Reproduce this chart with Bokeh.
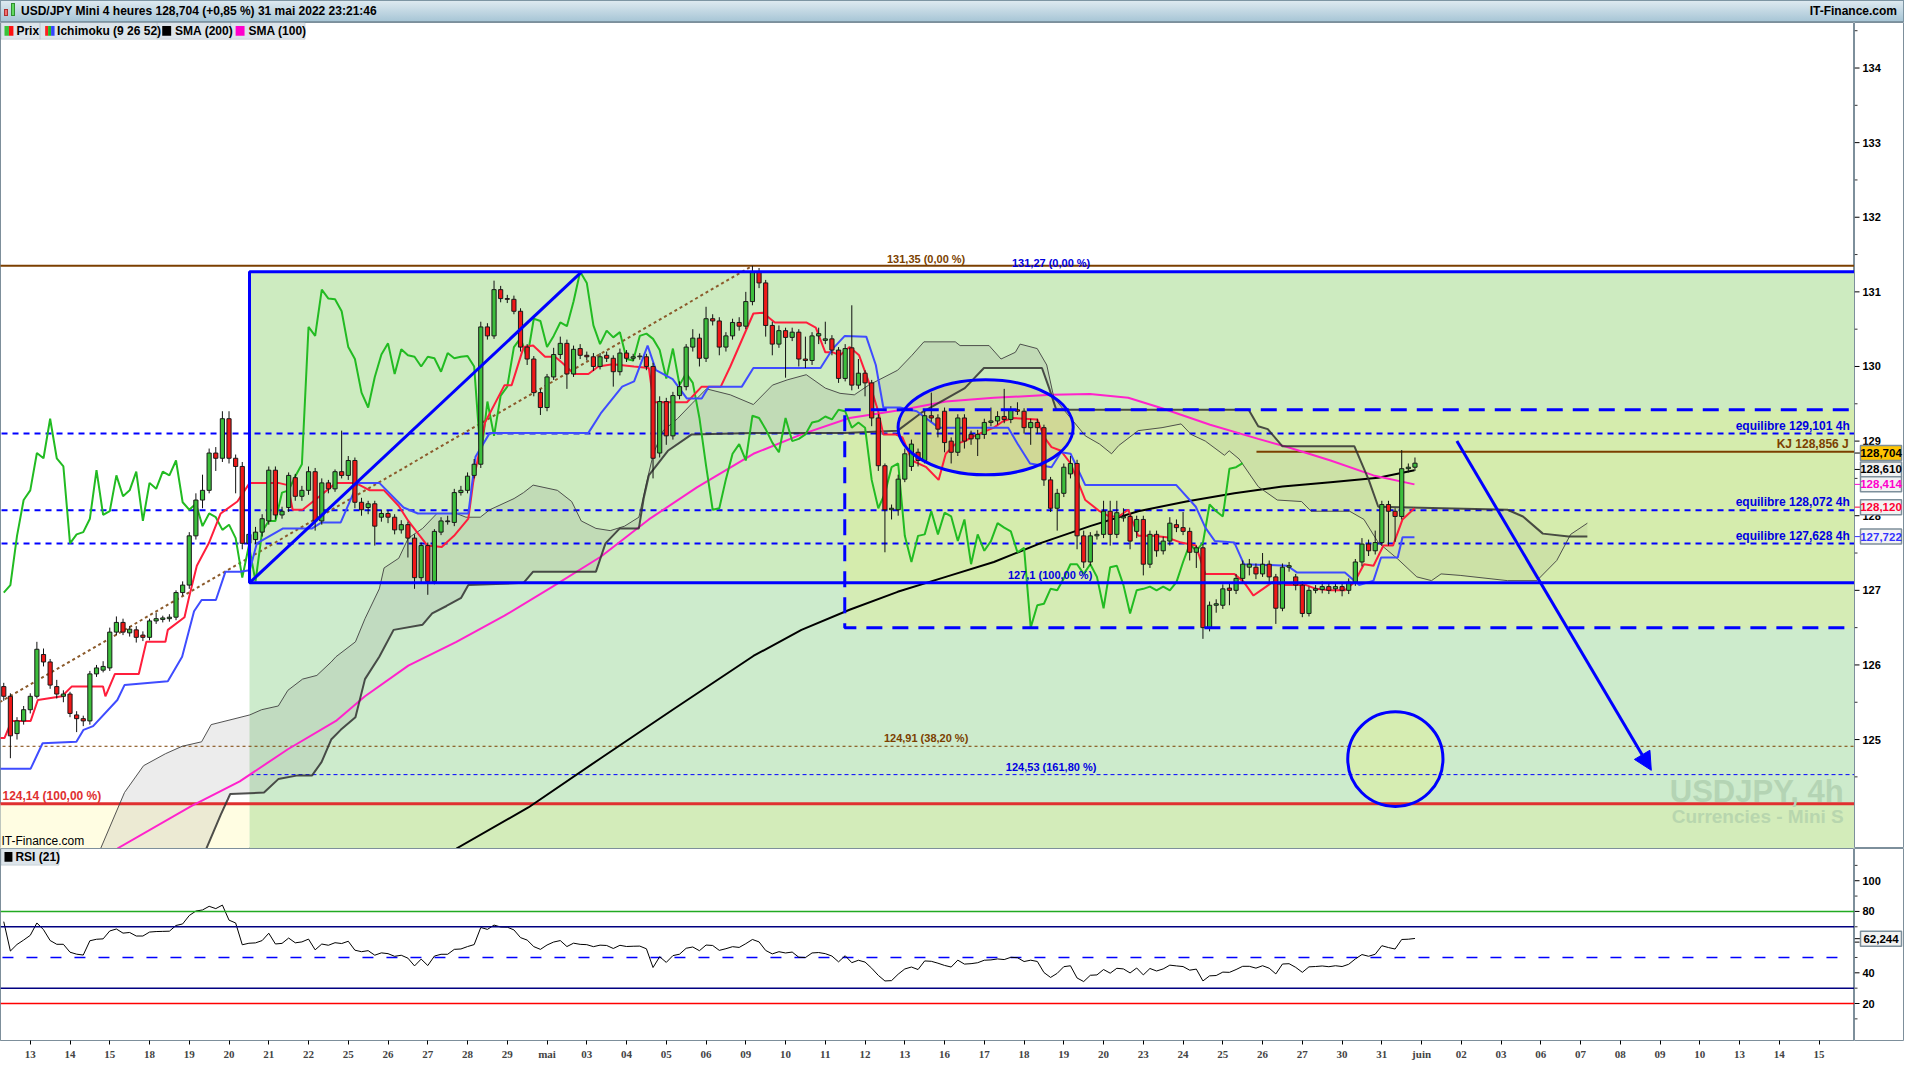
import numpy as np
from bokeh.plotting import figure
from bokeh.layouts import column, row
from bokeh.models import Div, Label, BoxAnnotation, FixedTicker, Arrow, NormalHead, Span
from bokeh.core.properties import value
from bokeh.embed import file_html
from bokeh.resources import INLINE

# ---------------- data ----------------
DAY_LABELS = ["13", "14", "15", "18", "19", "20", "21", "22", "25", "26", "27", "28", "29", "mai",
              "03", "04", "05", "06", "09", "10", "11", "12", "13", "16", "17", "18", "19", "20",
              "23", "24", "25", "26", "27", "30", "31", "juin", "02", "03", "06", "07", "08", "09",
              "10", "13", "14", "15"]

OPENS = [125.71,125.58,125.08,125.25,125.40,125.58,126.14,126.04,125.71,125.58,
         125.61,125.33,125.28,125.25,125.88,125.93,125.96,126.44,126.57,126.43,
         126.47,126.40,126.37,126.59,126.61,126.62,126.64,126.97,127.07,127.73,
         128.21,128.34,128.84,128.77,129.30,128.77,128.66,127.63,127.68,127.78,
         127.93,128.61,128.01,128.11,128.51,128.26,128.34,128.59,127.93,128.44,
         128.36,128.59,128.54,128.74,128.18,128.11,128.16,127.98,128.03,127.98,
         127.81,127.88,127.70,127.17,127.60,127.12,127.78,127.92,127.91,128.31,
         128.34,128.54,128.69,130.53,130.41,131.03,130.91,130.90,130.74,130.26,
         130.10,129.65,129.45,129.86,130.16,130.31,129.90,130.24,130.15,130.13,
         130.00,130.15,130.11,129.93,130.18,130.11,130.13,130.13,130.00,128.84,
         129.53,129.07,129.61,129.73,130.26,130.38,130.11,130.64,130.61,130.26,
         130.41,130.59,130.54,
         130.87,131.27,131.12,130.55,130.30,130.48,130.39,130.46,130.10,130.08,
         130.41,130.35,130.37,130.22,129.84,130.25,129.75,129.91,129.78,129.31,
         128.67,128.08,128.08,128.49,128.66,128.85,128.74,129.34,129.31,129.40,
         129.00,128.85,129.31,129.09,129.03,129.09,129.25,129.27,129.33,129.29,
         129.42,129.40,129.18,129.25,129.18,128.48,128.10,128.30,128.56,128.70,
         127.73,127.38,127.73,127.75,128.06,127.75,127.97,127.99,127.79,127.95,
         127.35,127.75,127.53,127.66,127.88,127.84,127.79,127.51,127.57,126.50,
         126.80,126.80,127.03,127.00,127.16,127.31,127.31,127.22,127.35,127.18,
         126.76,127.31,127.18,127.07,126.69,127.00,127.01,127.05,127.02,127.05,
         127.00,127.11,127.38,127.62,127.53,127.64,128.15,128.06,127.99,128.63,
         128.65]

CLOSES = [125.58,125.05,125.25,125.40,125.58,126.21,126.04,125.73,125.61,125.61,
          125.35,125.28,125.25,125.88,125.96,125.98,126.44,126.57,126.44,126.48,
          126.37,126.37,126.59,126.62,126.63,126.64,126.97,127.07,127.73,128.21,
          128.34,128.84,128.77,129.30,128.77,128.66,127.63,127.75,127.78,127.96,
          128.61,128.01,128.06,128.54,128.26,128.34,128.59,127.93,128.44,128.36,
          128.59,128.54,128.74,128.18,128.08,128.16,127.86,128.03,127.98,127.81,
          127.88,127.70,127.17,127.60,127.12,127.79,127.93,127.93,128.31,128.34,
          128.53,128.69,130.53,130.41,131.03,130.91,130.90,130.74,130.26,130.10,
          129.65,129.45,129.86,130.16,130.31,129.90,130.23,130.15,130.13,130.00,
          130.13,130.11,129.93,130.18,130.11,130.13,130.14,130.00,128.77,129.53,
          129.07,129.61,129.73,130.26,130.38,130.11,130.64,130.61,130.26,130.41,
          130.59,130.54,130.87,
          131.27,131.12,130.55,130.30,130.48,130.39,130.46,130.10,130.08,130.41,
          130.44,130.37,130.22,129.84,130.24,129.75,129.91,129.78,129.31,128.67,
          128.08,128.10,128.49,128.83,128.96,128.74,129.34,129.31,129.16,128.98,
          128.85,129.31,129.00,129.03,129.09,129.25,129.27,129.33,129.29,129.42,
          129.40,129.18,129.25,129.18,128.48,128.10,128.30,128.65,128.70,127.73,
          127.38,127.73,127.75,128.06,127.75,128.04,127.99,127.66,127.95,127.35,
          127.75,127.53,127.66,127.90,127.84,127.79,127.51,127.57,126.50,126.80,
          126.82,127.02,127.00,127.16,127.35,127.35,127.22,127.35,127.18,126.76,
          127.31,127.33,127.07,126.69,127.00,127.02,127.05,127.00,127.05,127.00,
          127.11,127.38,127.62,127.53,127.64,128.15,128.06,127.99,128.63,128.65,
          128.704]

HIGHS = [125.76,125.62,125.30,125.45,125.62,126.31,126.22,126.08,125.80,125.66,
         125.64,125.38,125.32,125.92,126.00,126.05,126.50,126.65,126.62,126.52,
         126.52,126.45,126.62,126.70,126.66,126.68,127.00,127.12,127.78,128.30,
         128.55,128.90,128.92,129.40,129.40,128.82,128.72,127.82,127.85,128.02,
         128.66,128.66,128.12,128.58,128.56,128.40,128.66,128.64,128.50,128.48,
         128.62,129.14,128.80,128.78,128.24,128.20,128.20,128.08,128.07,128.02,
         127.94,127.92,127.75,127.64,127.64,127.82,127.98,128.00,128.36,128.40,
         128.58,128.76,130.60,130.58,131.15,131.08,130.96,130.95,130.78,130.30,
         130.14,129.70,129.90,130.25,130.40,130.36,130.28,130.30,130.20,130.18,
         130.18,130.20,130.15,130.24,130.22,130.17,130.18,130.17,130.05,129.60,
         129.58,129.66,129.80,130.30,130.50,130.44,130.80,130.70,130.66,130.46,
         130.64,130.66,131.00,
         131.35,131.32,131.16,130.60,130.55,130.52,130.52,130.50,130.40,130.46,
         130.52,130.60,130.42,130.26,130.30,130.82,130.10,129.95,129.82,129.36,
         128.70,128.15,128.55,128.90,129.02,128.90,129.40,129.65,129.36,129.45,
         129.05,129.36,129.36,129.14,129.15,129.30,129.45,129.40,129.70,129.47,
         129.52,129.44,129.30,129.30,129.22,128.52,128.36,128.70,128.80,128.75,
         127.80,127.78,127.80,128.20,128.20,128.20,128.10,128.03,128.00,128.00,
         127.80,127.80,127.72,127.98,127.95,128.05,127.84,127.60,127.62,126.85,
         126.88,127.08,127.10,127.22,127.40,127.42,127.36,127.50,127.40,127.22,
         127.36,127.38,127.22,127.12,127.05,127.07,127.12,127.10,127.10,127.10,
         127.16,127.42,127.70,127.68,127.80,128.20,128.20,128.10,128.88,128.70,
         128.78]

LOWS = [125.52,124.75,125.00,125.20,125.35,125.55,125.98,125.68,125.55,125.50,
        125.30,125.10,125.18,125.20,125.84,125.90,125.92,126.40,126.40,126.38,
        126.30,126.32,126.33,126.55,126.57,126.58,126.60,126.93,127.02,127.68,
        128.10,128.30,128.60,128.72,128.70,128.30,127.55,127.35,127.62,127.72,
        127.88,127.95,127.96,128.05,128.20,128.20,128.28,127.80,127.88,128.30,
        128.32,128.50,128.48,128.10,128.00,128.02,127.60,127.92,127.90,127.75,
        127.76,127.44,127.02,127.10,126.94,127.08,127.74,127.88,127.86,128.27,
        128.30,128.50,128.64,130.36,130.37,130.86,130.85,130.70,130.20,130.02,
        129.60,129.35,129.40,129.82,130.10,129.70,129.86,130.10,130.08,129.94,
        129.96,130.06,129.73,129.88,130.06,130.07,130.09,129.95,128.50,128.78,
        128.95,129.02,129.56,129.68,130.20,130.00,130.06,130.55,130.15,130.20,
        130.36,130.48,130.50,
        130.82,131.05,130.40,130.15,130.25,129.85,130.34,130.00,129.98,130.02,
        130.30,130.30,130.15,129.78,129.80,129.68,129.70,129.60,129.20,128.60,
        127.51,127.95,128.00,128.45,128.60,128.66,128.70,129.26,129.05,128.85,
        128.70,128.80,128.90,128.95,128.80,129.03,129.20,129.22,129.24,129.24,
        129.35,129.10,128.95,129.10,128.40,128.05,127.80,128.25,128.50,127.55,
        127.30,127.33,127.68,127.70,127.60,127.70,127.92,127.55,127.70,127.20,
        127.30,127.45,127.48,127.60,127.78,127.74,127.40,127.30,126.35,126.45,
        126.70,126.75,126.80,126.95,127.10,127.20,127.15,127.18,127.10,126.55,
        126.72,127.25,127.00,126.64,126.65,126.96,126.96,126.95,126.97,126.92,
        126.95,127.06,127.32,127.46,127.48,127.60,127.60,127.65,127.95,128.58,
        128.60]

LAST_CANDLE_DAY = 34.833   # 31 mai, 20:00 bar (day index, 1 unit = 1 trading day)

# Ichimoku lines: (day index, price)
TENKAN = [(-0.77,125.02),(-0.65,125.02),(-0.47,125.25),(0.01,125.25),(0.19,125.53),(0.80,125.58),(1.04,125.71),(1.83,125.71),(1.89,125.58),(2.13,125.88),(2.73,125.88),(2.92,126.31),(3.40,126.31),(3.46,126.47),(3.88,126.64),(4.00,126.92),(4.19,127.33),(4.49,127.63),(4.79,128.03),(5.21,128.19),(5.52,128.44),(6.24,128.44),(6.48,128.41),(6.60,128.08),(6.85,128.08),(7.21,128.23),(7.69,128.44),(8.18,128.44),(8.54,128.34),(8.90,128.34),(9.27,128.13),(9.51,127.93),(9.99,127.60),(10.35,127.58),(10.66,127.73),(11.02,127.96),(11.14,128.44),(11.44,129.25),(11.93,129.75),(12.11,129.75),(12.41,130.26),(12.65,130.28),(12.95,130.13),(13.20,130.13),(13.38,130.05),(13.68,129.90),(14.04,129.90),(14.29,130.00),(14.65,130.03),(15.19,130.00),(15.56,129.98),(15.68,129.52),(16.52,129.52),(16.89,129.73),(17.37,129.73),(17.61,130.00),(18.19,130.71),(18.43,130.72),(18.73,130.59),(19.52,130.59),(19.76,130.52),(20.00,130.19),(20.19,130.19),(20.37,130.15),(20.61,130.26),(20.85,130.15),(21.15,129.71),(21.33,129.40),(21.46,129.09),(21.76,129.09),(21.94,129.05),(22.18,128.74),(22.54,128.65),(22.85,128.48),(23.03,128.83),(23.27,128.96),(23.51,129.00),(23.75,129.07),(24.24,129.18),(24.48,129.27),(24.72,129.31),(25.33,129.29),(25.51,129.05),(25.69,128.92),(25.93,128.87),(26.17,128.70),(26.54,128.21),(26.90,128.06),(27.14,127.99),(27.38,127.99),(27.62,128.08),(27.87,127.73),(28.23,127.73),(28.59,127.71),(28.95,127.64),(29.32,127.60),(29.56,127.22),(30.29,127.22),(30.53,127.11),(30.77,126.93),(31.01,127.02),(31.25,127.11),(31.50,127.07),(32.10,127.07),(32.34,127.02),(32.71,127.00),(33.07,127.00),(33.31,127.11),(33.55,127.35),(33.79,127.33),(34.04,127.60),(34.28,127.60),(34.52,127.95),(34.82,128.10)]

KIJUN = [(-0.77,124.61),(0.01,124.61),(0.31,124.95),(1.16,124.97),(1.34,125.13),(1.58,125.18),(2.19,125.53),(2.37,125.73),(3.46,125.78),(3.82,126.11),(4.12,126.72),(4.31,126.87),(4.67,126.87),(4.91,127.25),(5.27,127.25),(5.52,127.27),(5.70,127.63),(6.36,127.83),(7.09,127.83),(7.33,127.91),(7.81,127.91),(8.24,128.44),(8.78,128.44),(9.39,128.11),(9.75,128.03),(11.02,128.03),(11.20,128.79),(11.56,129.11),(14.04,129.11),(14.35,129.37),(14.89,129.73),(15.19,129.80),(15.53,130.28),(15.74,129.95),(16.16,129.83),(16.52,129.57),(16.89,129.57),(17.07,129.73),(17.90,129.73),(18.19,129.98),(19.88,129.98),(20.19,130.24),(20.49,130.41),(21.03,130.40),(21.27,130.02),(21.46,129.45),(21.88,129.45),(22.30,129.40),(22.85,129.18),(24.60,129.18),(24.84,128.96),(25.15,128.70),(25.69,128.65),(25.93,128.85),(26.17,128.83),(26.54,128.41),(28.83,128.41),(29.32,128.12),(29.56,127.84),(29.80,127.66),(30.29,127.64),(30.53,127.35),(31.62,127.33),(31.86,127.24),(33.07,127.24),(33.43,127.07),(33.79,127.13),(33.98,127.44),(34.40,127.44),(34.52,127.71),(34.82,127.71)]

SENKOU_A = [(1.77,123.54),(2.37,124.29),(2.85,124.65),(3.40,124.81),(3.82,124.91),(4.31,124.97),(4.55,125.20),(5.15,125.28),(5.52,125.33),(5.82,125.40),(6.24,125.45),(6.48,125.66),(6.85,125.81),(7.21,125.86),(7.57,126.04),(7.69,126.11),(8.18,126.31),(8.42,126.62),(8.78,127.02),(8.90,127.30),(9.27,127.43),(9.51,127.70),(9.87,127.83),(10.23,128.03),(10.72,128.03),(10.96,127.98),(11.32,127.98),(11.56,128.08),(12.17,128.23),(12.41,128.31),(12.65,128.41),(13.26,128.34),(13.62,128.19),(13.86,127.93),(14.23,127.83),(14.59,127.80),(14.95,127.86),(15.31,127.98),(15.50,128.44),(15.68,128.84),(15.92,129.14),(16.28,129.30),(16.64,129.50),(17.01,129.70),(17.61,129.62),(18.19,129.49),(18.67,129.75),(19.04,129.82),(19.52,129.89),(20.00,129.71),(20.37,129.64),(20.73,129.62),(21.09,129.75),(21.82,129.95),(22.18,130.15),(22.48,130.33),(23.27,130.33),(23.39,130.28),(24.12,130.28),(24.42,130.10),(24.78,130.19),(24.90,130.30),(25.33,130.24),(25.57,130.02),(25.75,129.58),(26.17,129.31),(26.54,129.07),(26.90,128.96),(27.20,128.83),(27.38,128.94),(27.87,129.14),(28.47,129.18),(28.95,129.23),(29.20,129.09),(29.56,129.00),(30.04,128.81),(30.16,128.87),(30.41,128.76),(30.89,128.39),(31.37,128.21),(31.98,128.19),(32.22,128.06),(33.19,128.06),(33.55,127.95),(33.91,127.64),(34.40,127.42),(34.88,127.18),(35.25,127.13),(35.49,127.22),(35.97,127.20),(37.16,127.13),(37.90,127.13),(38.40,127.40),(38.75,127.75),(39.17,127.90)]

SENKOU_B = [(4.43,123.54),(4.79,123.99),(5.03,124.27),(5.88,124.29),(6.24,124.47),(6.73,124.52),(7.09,124.52),(7.33,124.70),(7.57,125.00),(7.81,125.13),(8.18,125.30),(8.42,125.81),(8.78,126.11),(9.14,126.47),(9.87,126.54),(10.11,126.69),(10.47,126.79),(10.84,126.90),(11.02,127.07),(12.41,127.10),(12.65,127.25),(14.23,127.25),(14.47,127.63),(14.83,127.83),(15.31,127.83),(15.43,128.23),(15.56,128.54),(16.04,128.87),(16.64,129.09),(18.19,129.11),(20.49,129.11),(21.82,129.14),(22.42,129.38),(23.51,129.71),(23.99,129.98),(25.45,129.98),(25.63,129.71),(25.81,129.42),(30.65,129.42),(30.89,129.20),(31.13,129.16),(31.50,128.93),(33.31,128.93),(33.67,128.48),(33.91,128.12),(37.16,128.08),(37.55,127.99),(38.05,127.76),(38.70,127.72),(39.17,127.72)]

SMA100 = [(2.19,123.54),(4.06,124.11),(5.27,124.44),(6.48,124.87),(7.69,125.25),(8.42,125.58),(9.51,125.99),(10.72,126.31),(11.93,126.66),(13.14,127.05),(14.35,127.45),(15.56,127.95),(16.77,128.38),(18.19,128.83),(19.40,129.09),(20.61,129.31),(21.94,129.42),(23.03,129.53),(24.24,129.58),(25.69,129.62),(26.66,129.63),(27.62,129.58),(28.47,129.44),(29.68,129.22),(30.89,129.03),(31.62,128.92),(32.71,128.74),(33.79,128.54),(34.82,128.42)]

SMA200 = [(10.72,123.54),(12.53,124.09),(14.35,124.75),(16.16,125.40),(18.19,126.12),(19.40,126.47),(20.61,126.74),(21.82,126.98),(23.03,127.18),(24.24,127.38),(25.45,127.64),(26.66,127.86),(27.87,128.06),(29.08,128.19),(30.29,128.30),(31.50,128.39),(32.71,128.45),(33.91,128.51),(34.82,128.61)]

# last-value boxes on the price scale: (box centre price, text, text colour, fill)
PRICE_BOXES = [(128.84, "128,704", "#000000", "#FFC400"),
               (128.62, "128,610", "#000000", "#F2F2F2"),
               (128.42, "128,414", "#FF00CC", "#F2F2F2"),
               (128.115, "128,120", "#FF0033", "#F2F2F2"),
               (127.72, "127,722", "#3333FF", "#F2F2F2")]
RSI_BOXES = [(62.24, "62,244", "#000000", "#F2F2F2")]
PRICE_TICKS = list(range(125, 135))
RSI_TICKS = [20, 40, 60, 80, 100]

RSI_SEED_GAIN, RSI_SEED_LOSS = 0.055, 0.020   # RSI ~73 at the first bar
RSI_PERIOD = 21

# ---------------- helpers (reference pixel -> data) ----------------
def rx(px):
    return (px - 31) / 40.07

def ry(py):
    return 129 - (py - 447) / 75.7

def rr(py):
    return (1051.5 - py) / 1.575

FONT = "Liberation Sans"
BLUE = "#0000FF"
BROWN = "#7B3F00"
FRAME_C = "#7d8f9b"
MAIN_W, AXIS_W = 1854, 50
MAIN_H, RSI_H, RSI_BOTTOM = 826, 216, 24

N = len(CLOSES)
xs = np.array([LAST_CANDLE_DAY - (N - 1 - k) / 6.0 for k in range(N)])
o = np.array(OPENS); c = np.array(CLOSES)
h = np.maximum(np.array(HIGHS), np.maximum(o, c))
l = np.minimum(np.array(LOWS), np.minimum(o, c))

# ---------------- main price panel ----------------
X_RANGE = (-0.749, 45.89)
main = figure(width=MAIN_W, height=MAIN_H, x_range=X_RANGE, y_range=(123.54, 134.61),
              output_backend="svg", toolbar_location=None, x_axis_location=None,
              y_axis_location=None, min_border_left=0, min_border_right=0,
              min_border_top=0, min_border_bottom=0, background_fill_color="white",
              border_fill_color="white", outline_line_color=FRAME_C)
main.grid.visible = False

BOX_L = rx(252)      # left of the fib box
main.quad(left=[-1], right=[BOX_L], top=[124.14], bottom=[123.0], fill_color="#FFFDE2", line_color=None)
main.quad(left=[BOX_L], right=[47], top=[131.27], bottom=[127.1], fill_color="#CDEBC0", line_color=None)
main.quad(left=[BOX_L], right=[47], top=[127.1], bottom=[124.14], fill_color="#CDEBCC", line_color=None)
main.quad(left=[BOX_L], right=[47], top=[124.14], bottom=[123.0], fill_color="#D3ECBA", line_color=None)

ax_, ay_ = zip(*SENKOU_A)
bx_, by_ = zip(*SENKOU_B)
main.patch(x=list(ax_) + list(bx_)[::-1], y=list(ay_) + list(by_)[::-1],
           fill_color="#7f7f7f", fill_alpha=0.15, line_color=None)

DB_L = rx(852)
main.quad(left=[DB_L], right=[47], top=[129.42], bottom=[126.50], fill_color="#E8F080",
          fill_alpha=0.30, line_color=None)
EL_X, EL_Y, EL_W, EL_H = rx(994), ry(433), 176.5 / 40.07, 96.5 / 75.7
CI_X, CI_Y, CI_W, CI_H = rx(1407), ry(769.6), 96 / 40.07, 96 / 75.7
main.ellipse(x=[EL_X], y=[EL_Y], width=[EL_W], height=[EL_H],
             fill_color="#C8B46E", fill_alpha=0.35, line_color=None)
main.ellipse(x=[CI_X], y=[CI_Y], width=[CI_W], height=[CI_H],
             fill_color="#E8F080", fill_alpha=0.35, line_color=None)

main.line([-1, 47], [131.35, 131.35], line_color=BROWN, line_width=2)
main.line([-1, 47], [124.91, 124.91], line_color=BROWN, line_width=1, line_dash="3 3")
main.line([BOX_L, 47], [124.53, 124.53], line_color=BLUE, line_width=1, line_dash="4 3")
main.line([-1, 47], [124.14, 124.14], line_color="#E03030", line_width=3)
for lev in (129.101, 128.072, 127.628):
    main.line([-1, 47], [lev, lev], line_color=BLUE, line_width=2, line_dash="6 5")
main.line([rx(1267), 47], [128.856, 128.856], line_color=BROWN, line_width=2)
main.line([-0.77, 18.17], [125.50, 131.35], line_color="#8B5A2B", line_width=2, line_dash="3 3")

sx, sy = zip(*SMA200)
main.line(sx, sy, line_color="#000000", line_width=2)
sx, sy = zip(*SMA100)
main.line(sx, sy, line_color="#FF22CC", line_width=2)

main.line(ax_, ay_, line_color="#404040", line_width=1, line_alpha=0.9)
main.line(bx_, by_, line_color="#303030", line_width=2, line_alpha=0.85)
main.line(xs[:N - 26], c[26:], line_color="#22BB22", line_width=2)     # chikou span
tx, ty = zip(*TENKAN)
main.line(tx, ty, line_color="#FF1E3C", line_width=2)
kx, ky = zip(*KIJUN)
main.line(kx, ky, line_color="#3F4CFF", line_width=2)

inc = c >= o
main.segment(x0=xs, y0=l, x1=xs, y1=h, line_color="#111111", line_width=1)
main.vbar(x=xs[inc], width=0.105, top=c[inc], bottom=o[inc], fill_color="#3CBE3C",
          line_color="#1a1a1a", line_width=1)
main.vbar(x=xs[~inc], width=0.105, top=o[~inc], bottom=c[~inc], fill_color="#F01818",
          line_color="#1a1a1a", line_width=1)

main.quad(left=[BOX_L], right=[47], top=[131.27], bottom=[127.1], fill_color=None,
          line_color=BLUE, line_width=3)
main.quad(left=[DB_L], right=[47], top=[129.42], bottom=[126.50], fill_color=None,
          line_color=BLUE, line_width=3, line_dash="16 10")
main.line([BOX_L, rx(587)], [127.1, 131.27], line_color=BLUE, line_width=3)
main.ellipse(x=[EL_X], y=[EL_Y], width=[EL_W], height=[EL_H],
             fill_color=None, line_color=BLUE, line_width=3)
main.ellipse(x=[CI_X], y=[CI_Y], width=[CI_W], height=[CI_H],
             fill_color=None, line_color=BLUE, line_width=3)
main.add_layout(Arrow(end=NormalHead(size=18, fill_color=BLUE, line_color=BLUE),
                      x_start=rx(1469), y_start=ry(447), x_end=rx(1665), y_end=ry(781),
                      line_color=BLUE, line_width=3))


def lab(fig, x, y, text, color, size=11, align="left", baseline="middle", style="bold",
        font=FONT):
    fig.add_layout(Label(x=x, y=y, text=text, text_color=color, text_font_size=f"{size}px",
                         text_align=align, text_baseline=baseline, text_font_style=style,
                         text_font=font))


lab(main, rx(934), ry(262), "131,35 (0,00 %)", BROWN, align="center")
lab(main, rx(1060), ry(266), "131,27 (0,00 %)", "#0000E0", align="center")
lab(main, rx(1059), ry(583), "127,1 (100,00 %)", "#0000E0", align="center")
lab(main, rx(934), ry(748), "124,91 (38,20 %)", BROWN, align="center")
lab(main, rx(1060), ry(778), "124,53 (161,80 %)", "#0000E0", align="center")
lab(main, rx(3), ry(807), "124,14 (100,00 %)", "#E03030", size=12)
lab(main, rx(1865), ry(432), "equilibre 129,101 4h", "#0000E0", size=12, align="right")
lab(main, rx(1865), ry(509), "equilibre 128,072 4h", "#0000E0", size=12, align="right")
lab(main, rx(1865), ry(543), "equilibre 127,628 4h", "#0000E0", size=12, align="right")
lab(main, rx(1864), ry(450), "KJ 128,856 J", BROWN, size=12, align="right")
lab(main, rx(1859), ry(802), "USDJPY, 4h", "#B4D4B4", size=31, align="right")
lab(main, rx(1859), ry(828), "Currencies - Mini S", "#B8D6AE", size=19, align="right")
lab(main, rx(2), ry(853), "IT-Finance.com", "#000000", size=12, style="normal")

TOP = 134.61
def ty_(px):
    return TOP - px / 75.7

for (x0, x1) in ((1.5, 41), (41, 159), (159, 233), (233, 308)):
    main.add_layout(BoxAnnotation(left=rx(x0), right=rx(x1), top=ty_(0), bottom=ty_(17),
                                  fill_color="#DCE4EA", fill_alpha=1, line_color="#8C9BA6",
                                  line_width=1))
for (x0, x1, col) in ((5, 9.5, "#39C339"), (9.5, 14, "#FF1010"), (46, 49, "#FF2020"),
                      (49, 52, "#22BB22"), (52, 55.5, "#3344FF"), (164, 173, "#000000"),
                      (238, 247, "#FF00CC")):
    main.add_layout(BoxAnnotation(left=rx(x0), right=rx(x1), top=ty_(3.5), bottom=ty_(13.5),
                                  fill_color=col, fill_alpha=1, line_color=None))
lab(main, rx(17), ty_(8.5), "Prix", "#000000", size=12)
lab(main, rx(58), ty_(8.5), "Ichimoku (9 26 52)", "#000000", size=12)
lab(main, rx(177), ty_(8.5), "SMA (200)", "#000000", size=12)
lab(main, rx(251), ty_(8.5), "SMA (100)", "#000000", size=12)

# ---------------- RSI panel ----------------
rsi_vals = []
ag, al = RSI_SEED_GAIN, RSI_SEED_LOSS
rsi_vals.append(100 - 100 / (1 + ag / al))
for d in np.diff(c):
    ag = (ag * (RSI_PERIOD - 1) + max(d, 0)) / RSI_PERIOD
    al = (al * (RSI_PERIOD - 1) + max(-d, 0)) / RSI_PERIOD
    rsi_vals.append(100 - 100 / (1 + ag / al))

rsi = figure(width=MAIN_W, height=RSI_H, x_range=main.x_range, y_range=(-4.1, 121),
             output_backend="svg", toolbar_location=None, y_axis_location=None,
             min_border_left=0, min_border_right=0, min_border_top=0,
             min_border_bottom=RSI_BOTTOM, background_fill_color="white",
             border_fill_color="white", outline_line_color=FRAME_C)
rsi.grid.visible = False
rsi.add_layout(Span(location=80, dimension="width", line_color="#22AA22", line_width=1.5))
rsi.add_layout(Span(location=70, dimension="width", line_color="#000080", line_width=1.5))
rsi.add_layout(Span(location=30, dimension="width", line_color="#000080", line_width=1.5))
rsi.add_layout(Span(location=20, dimension="width", line_color="#FF0000", line_width=1.5))
rsi.line([-0.7, 45.7], [50, 50], line_color=BLUE, line_width=1.5, line_dash="11 13")
rsi.line(xs, rsi_vals, line_color="#000000", line_width=1)

rsi.add_layout(BoxAnnotation(left=rx(1.5), right=rx(60), top=rr(861), bottom=rr(878),
                             fill_color="#DCE4EA", fill_alpha=1, line_color="#8C9BA6", line_width=1))
rsi.add_layout(BoxAnnotation(left=rx(5), right=rx(13), top=rr(864.5), bottom=rr(874.5),
                             fill_color="#000000", fill_alpha=1, line_color=None))
lab(rsi, rx(16), rr(869.5), "RSI (21)", "#000000", size=12)

xax = rsi.xaxis[0]
xax.ticker = FixedTicker(ticks=list(range(len(DAY_LABELS))))
xax.major_label_overrides = {i: t for i, t in enumerate(DAY_LABELS)}
xax.major_label_text_font = "Liberation Sans Narrow"
xax.major_label_text_font_style = "bold"
xax.major_label_text_font_size = "11px"
xax.axis_line_color = FRAME_C
xax.major_tick_in = 0
xax.major_tick_out = 4
xax.minor_tick_out = 0
xax.minor_tick_in = 0
xax.major_label_standoff = 3


# ---------------- price scales (right-hand column) ----------------
def price_scale(y_range, height, ticks, minor, boxes, bottom=0):
    s = figure(width=AXIS_W, height=height, x_range=(0, AXIS_W), y_range=y_range,
               output_backend="svg", toolbar_location=None, x_axis_location=None,
               y_axis_location=None, min_border_left=0, min_border_right=0,
               min_border_top=0, min_border_bottom=bottom, background_fill_color="white",
               border_fill_color="white", outline_line_color=FRAME_C)
    s.grid.visible = False
    s.segment(x0=[0] * len(minor), y0=minor, x1=[3] * len(minor), y1=minor,
              line_color="#333333", line_width=1)
    s.segment(x0=[0] * len(ticks), y0=ticks, x1=[5] * len(ticks), y1=ticks,
              line_color="#000000", line_width=1)
    s.text(x=[8] * len(ticks), y=ticks, text=[str(t) for t in ticks], text_font=value(FONT),
           text_font_style="bold", text_font_size="11px", text_baseline="middle",
           text_color="#000000")
    for (yv, txt, col, bg) in boxes:
        s.segment(x0=[0], y0=[yv], x1=[6], y1=[yv], line_color=col, line_width=1)
        s.rect(x=[26.5], y=[yv], width=[41], height=[15], height_units="screen",
               fill_color=bg, line_color=FRAME_C, line_width=1.5)
        s.text(x=[26.5], y=[yv], text=[txt], text_font=value(FONT), text_font_style="bold",
               text_font_size="11.5px", text_baseline="middle", text_align="center",
               text_color=col)
    return s


price_side = price_scale(main.y_range, MAIN_H, PRICE_TICKS,
                         [v + 0.5 for v in range(123, 135)], PRICE_BOXES)
rsi_side = price_scale(rsi.y_range, RSI_H, RSI_TICKS, [10, 30, 50, 70, 90, 110], RSI_BOXES,
                       bottom=RSI_BOTTOM)

# ---------------- header ----------------
header_html = (
    '<div style="position:relative;width:1904px;height:22px;box-sizing:border-box;'
    'background:linear-gradient(#dde9f0,#a8c6d6);border:1px solid #7d95a3;'
    "font:bold 12px 'Liberation Sans',Arial,sans-serif;color:#000;\">"
    '<span style="position:absolute;left:3px;top:8px;width:4px;height:7px;background:#f07070;border:1px solid #b03030"></span>'
    '<span style="position:absolute;left:10px;top:2px;width:4px;height:13px;background:#60d860;border:1px solid #309030"></span>'
    '<span style="position:absolute;left:20px;top:3px;">USD/JPY Mini 4 heures 128,704 (+0,85 %) 31 mai 2022 23:21:46</span>'
    '<span style="position:absolute;right:6px;top:3px;">IT-Finance.com</span></div>'
)
header = Div(text=header_html, width=1904, height=22, margin=(0, 0, 0, 0))

layout = column(header, row(main, price_side, spacing=0), row(rsi, rsi_side, spacing=0), spacing=0)
open("out.html", "w").write(file_html(layout, INLINE, "USD/JPY Mini 4 heures"))
